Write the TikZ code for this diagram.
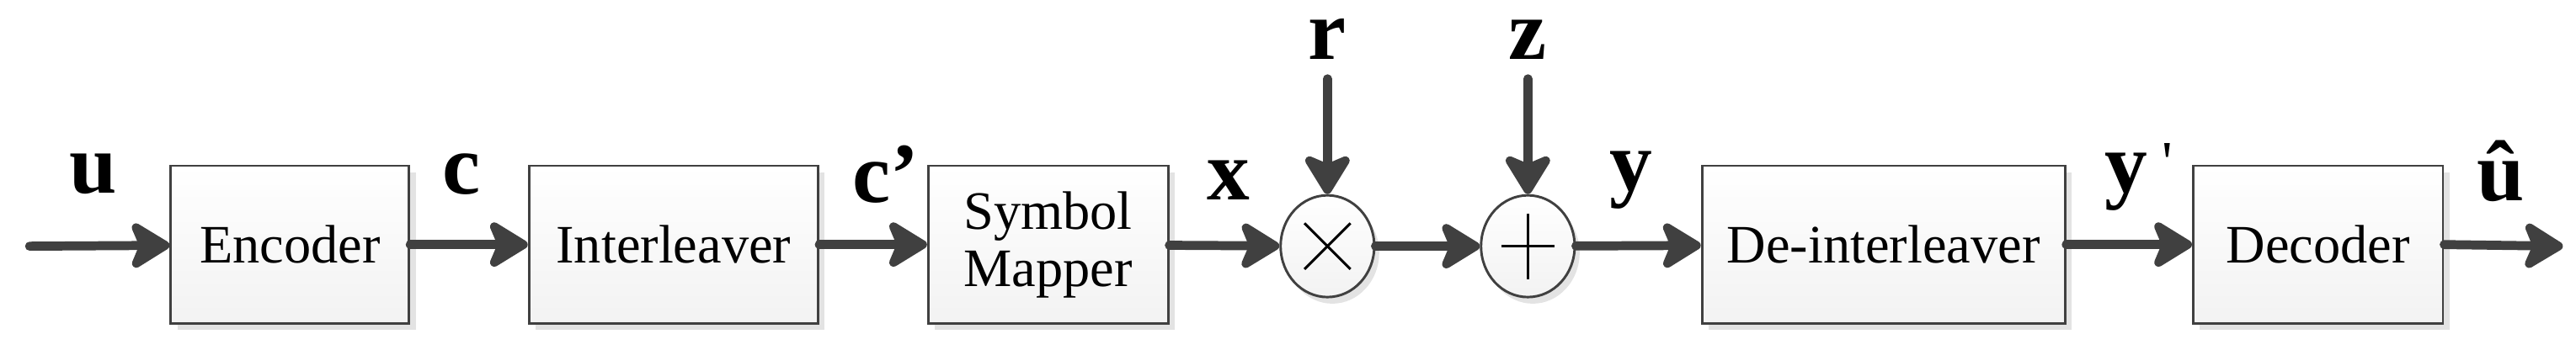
\documentclass[tikz,border=0pt]{standalone}
\usepackage{fontspec}
\setmainfont{Liberation Serif}
\usetikzlibrary{arrows.meta,shadows,shapes.geometric}
\definecolor{ln}{HTML}{404040}
\begin{document}
\begin{tikzpicture}[x=1pt,y=-1pt,
  blk/.style={draw=ln,line width=1.5pt,top color=white,bottom color=gray!10,
    drop shadow={shadow xshift=4pt,shadow yshift=-4pt,fill=gray!22,opacity=1},
    minimum height=96pt,inner sep=0pt,font=\fontsize{33}{35}\selectfont,align=center},
  op/.style={ellipse,draw=ln,line width=1.5pt,top color=white,bottom color=gray!10,
    drop shadow={shadow xshift=3pt,shadow yshift=-4pt,fill=gray!22,opacity=1},
    minimum width=57pt,minimum height=62pt,inner sep=0pt},
  lab/.style={font=\fontsize{52}{52}\bfseries\selectfont},
  ar/.style={draw=ln,line width=5.5pt,line cap=round,-{Stealth[length=28pt,width=34pt,inset=7pt,round=false]}}]
\useasboundingbox (0,0) rectangle (1568,213);
\node[blk,minimum width=145pt] (enc) at (176.5,149) {Encoder};
\node[blk,minimum width=176pt] (int) at (410,149) {Interleaver};
\node[blk,minimum width=146pt] (map) at (638,149) {Symbol\\Mapper};
\node[op] (mul) at (808,150) {};
\node[op] (add) at (930,150) {};
\node[blk,minimum width=221pt] (dei) at (1146.5,149) {De-interleaver};
\node[blk,minimum width=152pt] (dec) at (1411,149) {Decoder};
\draw[line width=1.5pt] ([shift={(-14,-14)}]mul.center) -- ([shift={(14,14)}]mul.center)
  ([shift={(-14,14)}]mul.center) -- ([shift={(14,-14)}]mul.center);
\draw[line width=1.5pt] ([shift={(-16,0)}]add.center) -- ([shift={(16,0)}]add.center)
  ([shift={(0,-20)}]add.center) -- ([shift={(0,20)}]add.center);
\coordinate (in) at (18,150);
\coordinate (out) at (1560,150);
\coordinate (rs) at (808,48);
\coordinate (zs) at (930,48);
\draw[ar] (in) -- (enc);
\draw[ar] (enc) -- (int);
\draw[ar] (int) -- (map);
\draw[ar] (map) -- (mul);
\draw[ar] (mul) -- (add);
\draw[ar] (add) -- (dei);
\draw[ar] (dei) -- (dec);
\draw[ar] (dec.east) -- (out);
\draw[ar] (rs) -- (mul);
\draw[ar] (zs) -- (add);
\node[lab] (lu) at (57,106) {u};
\node[lab] (lc) at (281,106) {c};
\node[lab] (lc2) at (539,106) {c'};
\node[lab] (lx) at (748,110) {x};
\node[lab] (lr) at (808,24) {r};
\node[lab] (lz) at (930,24) {z};
\node[lab] (ly) at (993,110) {y};
\node[lab] (ly2) at (1302,108) {y\,\raisebox{6pt}{\mdseries\fontsize{36}{36}\selectfont\textquotesingle}};
\node[lab] (luh) at (1522,104) {û};
\end{tikzpicture}
\end{document}
